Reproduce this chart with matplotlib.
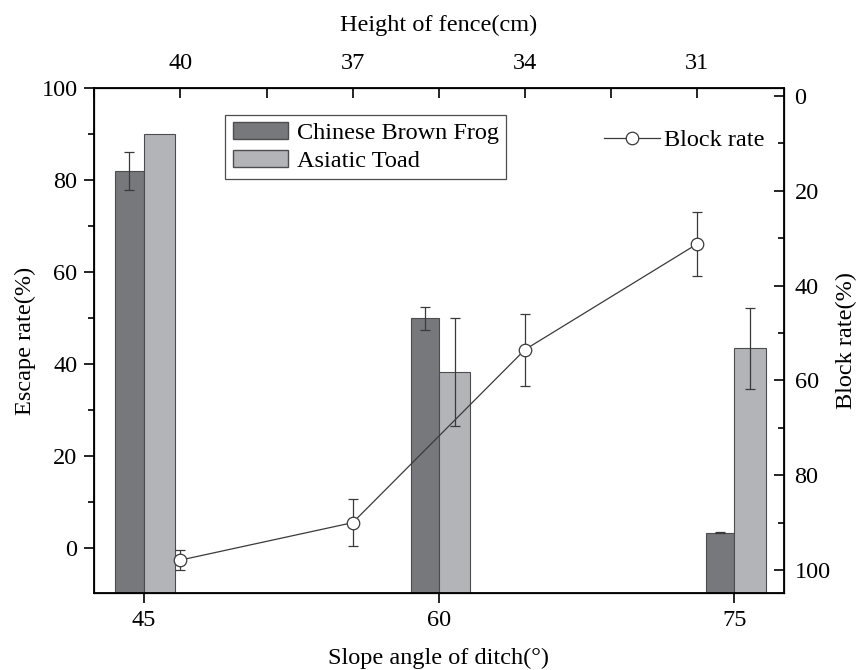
import numpy as np
import matplotlib
matplotlib.use('Agg')
import matplotlib.pyplot as plt
from matplotlib.ticker import FixedLocator
from matplotlib.patches import Patch
from matplotlib.lines import Line2D

## data
angles = [45, 60, 75]                 # slope angle of ditch (deg)
frog = [82.0, 50.0, 3.4]              # Chinese Brown Frog escape rate (%)
frog_err = [4.1, 2.5, 0.15]
toad = [90.0, 38.4, 43.5]             # Asiatic Toad escape rate (%)
toad_err = [0.0, 11.7, 8.8]

heights = [40, 37, 34, 31]            # height of fence (cm)
block = [97.9, 90.0, 53.5, 31.2]      # block rate (%)
block_err = [2.1, 4.9, 7.6, 6.7]

plt.rcParams['font.family'] = ['Liberation Serif', 'DejaVu Serif']
fs = 17.5
plt.rcParams['font.size'] = fs

frog_color = '#77787c'
toad_color = '#b3b4b8'
edge = '#4d4d4f'
dark = '#3a3a3c'

fig = plt.figure(figsize=(8.61, 6.70), dpi=100)
ax = fig.add_axes([0.1095, 0.1145, 0.8005, 0.7542])

ymin, ymax = -9.76, 100.07

# bars start at the bottom of the axis like in the original
x = np.array(angles, dtype=float)
ax.bar(x, np.array(frog) - ymin, bottom=ymin, width=-1.44, align='edge', color=frog_color,
       edgecolor=edge, linewidth=0.8, zorder=2)
ax.bar(x, np.array(toad) - ymin, bottom=ymin, width=1.59, align='edge', color=toad_color,
       edgecolor=edge, linewidth=0.8, zorder=2)

# error bars on bars (only where there is one)
fx = x - 1.44 / 2
tx = x + 1.59 / 2
ax.errorbar(fx, frog, yerr=frog_err, fmt='none', ecolor=dark, elinewidth=0.9, capsize=3.4, capthick=0.9, zorder=3)
mask = np.array(toad_err) > 0
ax.errorbar(tx[mask], np.array(toad)[mask], yerr=np.array(toad_err)[mask], fmt='none', ecolor=dark,
            elinewidth=0.9, capsize=3.4, capthick=0.9, zorder=3)

ax.set_xlim(42.5, 77.5)
ax.set_ylim(ymin, ymax)
ax.set_xticks(angles)
ax.yaxis.set_major_locator(FixedLocator([0, 20, 40, 60, 80, 100]))
ax.yaxis.set_minor_locator(FixedLocator([-10, 10, 30, 50, 70, 90]))
ax.tick_params(axis='both', which='major', direction='out', length=7, width=1.2, pad=5)
ax.tick_params(axis='y', which='minor', direction='out', length=4.5, width=1.2)
ax.set_xlabel('Slope angle of ditch(°)', labelpad=12)
ax.set_ylabel('Escape rate(%)', labelpad=4)
for s in ax.spines.values():
    s.set_linewidth(1.3)

## right axis: block rate, inverted
ax2 = ax.twinx()
ax2.set_ylim(104.9, -1.67)
ax2.yaxis.set_major_locator(FixedLocator([0, 20, 40, 60, 80, 100]))
ax2.yaxis.set_minor_locator(FixedLocator([10, 30, 50, 70, 90]))
ax2.tick_params(axis='y', which='major', direction='in', length=7, width=1.2, pad=8)
ax2.tick_params(axis='y', which='minor', direction='in', length=4.5, width=1.2)
ax2.set_ylabel('Block rate(%)', labelpad=4)

## top axis: height of fence
ax3 = ax2.twiny()
ax3.set_xlim(41.5, 29.5)
ax3.xaxis.set_major_locator(FixedLocator(heights))
ax3.xaxis.set_minor_locator(FixedLocator([41.5, 38.5, 35.5, 32.5]))
ax3.tick_params(axis='x', which='both', direction='in', length=7, width=1.2, pad=10)
ax3.set_xlabel('Height of fence(cm)', labelpad=16)

ax3.errorbar(heights, block, yerr=block_err, fmt='-o', color=dark, lw=0.9, ms=9,
             mfc='white', mec=dark, mew=0.9, ecolor=dark, elinewidth=0.9,
             capsize=3.4, capthick=0.9, zorder=5)

## legends
bar_handles = [Patch(facecolor=frog_color, edgecolor=edge, label='Chinese Brown Frog'),
               Patch(facecolor=toad_color, edgecolor=edge, label='Asiatic Toad')]
leg1 = ax3.legend(handles=bar_handles, loc='upper left', bbox_to_anchor=(0.19, 0.947), borderaxespad=0,
                  fancybox=False, edgecolor=edge, framealpha=1, handlelength=2.3, handleheight=0.7,
                  handletextpad=0.35, labelspacing=0.25, borderpad=0.3, fontsize=fs)
leg1.get_frame().set_linewidth(0.9)
ax3.add_artist(leg1)

line_handle = [Line2D([0], [0], color=dark, lw=0.9, marker='o', ms=9, mfc='white',
                      mec=dark, mew=0.9, label='Block rate')]
ax3.legend(handles=line_handle, loc='center left', bbox_to_anchor=(0.7395, 0.897), borderaxespad=0,
           borderpad=0, frameon=False, handlelength=2.3, handletextpad=0.15, fontsize=fs)

plt.savefig('out.png', dpi=100)
